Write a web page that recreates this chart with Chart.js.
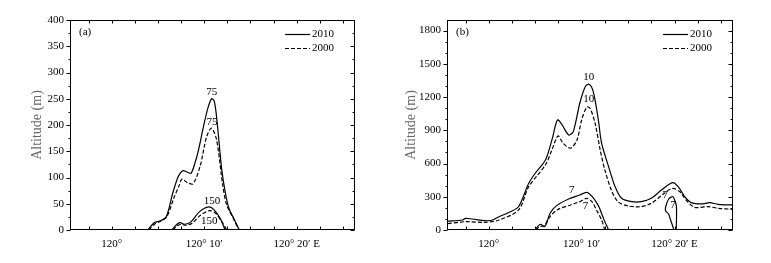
<!DOCTYPE html>
<html>
<head>
<meta charset="utf-8">
<script src="https://cdn.jsdelivr.net/npm/chart.js@4"></script>
<style>
  body { margin: 0; background: #fff; }
  #wrap { position: relative; width: 771px; height: 263px; }
  canvas { position: absolute; top: 0; }
</style>
</head>
<body>
<div id="wrap">
  <canvas id="chartA" width="385" height="263" style="left:0"></canvas>
  <canvas id="chartB" width="386" height="263" style="left:385px"></canvas>
</div>
<script>
// x values are minutes east of 120°E
const xTickValues = [0, 10, 20];
const xTickLabels = ['120°', '120° 10′', '120° 20′ E'];
const seriesNames = ['2010', '2000'];

// panel (a)
const aLon75_2010 = [3.9, 4.6, 5.2, 5.9, 6.6, 7.2, 7.7, 8.2, 8.6, 9.3, 9.9, 10.4, 10.8, 11.1, 11.4, 11.9, 12.3, 12.7, 13.2, 13.8];
const aAlt75_2010 = [0, 14, 17, 25, 70, 102, 113, 110, 108, 146, 195, 232, 250, 245, 205, 115, 70, 40, 22, 0];
const aLon75_2000 = [4.0, 4.7, 5.2, 5.95, 6.7, 7.3, 7.6, 8.2, 8.8, 9.55, 10.27, 10.8, 11.35, 12.0, 12.43, 13.15, 13.75];
const aAlt75_2000 = [0, 12, 16, 25, 60, 85, 97, 90, 88, 121, 178, 194, 171, 86, 48, 22, 0];
const aLon150_2010 = [6.5, 7.0, 7.4, 7.9, 8.6, 9.5, 10.5, 11.1, 11.8, 12.25];
const aAlt150_2010 = [0, 10, 14, 11, 16, 35, 44, 38, 20, 0];
const aLon150_2000 = [6.6, 7.1, 7.5, 8.0, 8.7, 9.6, 10.6, 11.3, 12.0, 12.45];
const aAlt150_2000 = [0, 8, 11, 9, 13, 28, 37, 31, 13, 0];
const aLabelText = ['75', '75', '150', '150'];
const aLabelLon = [10.83, 10.85, 10.84, 10.54];
const aLabelAlt = [262, 205, 55, 17];

// panel (b)
const bLon10_2010 = [-4.4, -2.85, -2.5, -1.8, -0.35, 0.4, 1.1, 2.1, 3.2, 4.3, 5.0, 6.1, 6.8, 7.4, 7.9, 8.6, 9.1, 9.8, 10.4, 10.8, 11.25, 11.8, 12.15, 12.9, 13.6, 14.3, 15.4, 16.4, 17.5, 18.6, 19.8, 20.4, 21.1, 21.8, 22.9, 23.8, 24.7, 26.3];
const bAlt10_2010 = [80, 90, 105, 99, 84, 90, 120, 156, 210, 421, 512, 632, 813, 993, 948, 858, 888, 1144, 1294, 1316, 1249, 993, 783, 572, 391, 286, 256, 256, 286, 361, 427, 391, 301, 247, 235, 247, 232, 226];
const bLon10_2000 = [-4.4, -2.5, -0.35, 1.1, 3.2, 4.3, 6.1, 6.8, 7.45, 8.0, 8.8, 9.5, 10.0, 10.55, 10.9, 11.45, 12.0, 12.5, 13.2, 13.9, 15.0, 16.4, 17.5, 18.9, 19.8, 20.55, 21.25, 22.15, 23.6, 24.7, 26.3];
const bAlt10_2000 = [57, 75, 69, 90, 180, 391, 587, 722, 849, 783, 738, 813, 993, 1108, 1099, 963, 722, 542, 361, 256, 217, 211, 241, 331, 376, 346, 271, 205, 211, 196, 187];
const bLon7_2010 = [5.0, 5.3, 5.6, 5.95, 6.2, 6.6, 7.3, 8.6, 9.8, 10.55, 11.1, 11.8, 12.35, 12.9];
const bAlt7_2010 = [0, 35, 50, 30, 55, 151, 220, 280, 316, 340, 305, 220, 105, 0];
const bLon7Loop_2010 = [20.19, 20.22, 20.19, 19.83, 19.37, 19.05, 19.05, 19.37, 19.58, 19.8, 19.94];
const bAlt7Loop_2010 = [0, 135, 226, 301, 280, 208, 172, 144, 90, 36, 0];
const bLon7_2000 = [5.05, 5.5, 6.0, 6.45, 7.35, 8.8, 9.8, 10.55, 11.1, 11.6, 12.15, 12.5];
const bAlt7_2000 = [0, 30, 40, 105, 181, 226, 256, 286, 256, 181, 90, 0];
const bLabelText = ['10', '10', '7', '7', '7', '7'];
const bLabelLon = [10.76, 10.76, 8.94, 10.42, 19.0, 19.83];
const bLabelAlt = [1377, 1177, 358, 218, 316, 226];

const serif = '"Liberation Serif", "DejaVu Serif", serif';
const pts = (lon, alt) => lon.map((x, i) => ({ x: x, y: alt[i] }));

function line(name, lon, alt, dashed, tension) {
  return {
    label: name,
    data: pts(lon, alt),
    borderColor: '#000',
    borderWidth: 1.2,
    borderDash: dashed ? [4, 2] : [],
    pointRadius: 0,
    fill: false,
    tension: tension === undefined ? 0.3 : tension
  };
}

// frame, inward/outward ticks, contour labels, legend and panel tag
const framePlugin = {
  id: 'frame',
  afterDatasetsDraw(chart, args, opts) {
    const { ctx, scales: { x, y } } = chart;
    ctx.save();
    ctx.fillStyle = '#000';
    ctx.font = '11px ' + serif;
    ctx.textAlign = 'center';
    ctx.textBaseline = 'middle';
    opts.text.forEach((t, i) => {
      ctx.fillText(t, x.getPixelForValue(opts.lon[i]), y.getPixelForValue(opts.alt[i]));
    });
    ctx.restore();
  },
  afterDraw(chart, args, opts) {
    const { ctx, chartArea: a, scales: { x, y } } = chart;
    const L = Math.round(a.left) + 0.5, R = Math.round(a.right) - 0.5;
    const T = Math.round(a.top) + 0.5, B = Math.round(a.bottom) - 0.5;
    ctx.save();
    ctx.strokeStyle = '#000';
    ctx.lineWidth = 1;
    ctx.setLineDash([]);
    ctx.strokeRect(L, T, R - L, B - T);
    ctx.beginPath();
    y.ticks.forEach(t => {
      const py = Math.round(y.getPixelForValue(t.value)) + 0.5;
      ctx.moveTo(L - 4, py); ctx.lineTo(L, py);
      ctx.moveTo(R, py); ctx.lineTo(R - 4, py);
    });
    for (let v = opts.minor; v < y.max; v += opts.minor) {
      if (Math.abs(v / opts.major - Math.round(v / opts.major)) < 1e-6) continue;
      const py = Math.round(y.getPixelForValue(v)) + 0.5;
      ctx.moveTo(L - 2, py); ctx.lineTo(L, py);
      ctx.moveTo(R, py); ctx.lineTo(R - 2, py);
    }
    x.ticks.forEach(t => {
      const px = Math.round(x.getPixelForValue(t.value)) + 0.5;
      ctx.moveTo(px, B); ctx.lineTo(px, B - 3);
      ctx.moveTo(px, T); ctx.lineTo(px, T + 3);
    });
    ctx.stroke();

    // legend
    ctx.font = '11px ' + serif;
    ctx.fillStyle = '#000';
    ctx.textBaseline = 'middle';
    ctx.textAlign = 'left';
    for (let i = 0; i < 2; i++) {
      const ds = chart.data.datasets[i];
      const ly = Math.round(a.top + 14 + i * 13.5) + 0.5;
      ctx.beginPath();
      ctx.lineWidth = 1.2;
      ctx.setLineDash(ds.borderDash);
      ctx.moveTo(a.right - 70, ly);
      ctx.lineTo(a.right - 45, ly);
      ctx.stroke();
      ctx.fillText(ds.label, a.right - 43, ly);
    }
    ctx.fillText(opts.tag, a.left + 9, a.top + 12);
    ctx.restore();
  }
};

function makeChart(id, datasets, cfg) {
  return new Chart(document.getElementById(id), {
    type: 'line',
    data: { datasets: datasets },
    plugins: [framePlugin],
    options: {
      responsive: false,
      animation: false,
      layout: { padding: { top: 20, right: cfg.padRight, left: 0, bottom: 0 } },
      plugins: {
        legend: { display: false },
        tooltip: { enabled: false },
        frame: { text: cfg.text, lon: cfg.lon, alt: cfg.alt, tag: cfg.tag, minor: cfg.minor, major: cfg.major }
      },
      scales: {
        x: {
          type: 'linear',
          min: -4.5,
          max: 26.3,
          grid: { display: false, drawTicks: false },
          border: { display: false },
          ticks: {
            stepSize: 2.5,
            includeBounds: false,
            autoSkip: false,
            maxRotation: 0,
            padding: 8,
            color: '#000',
            font: { family: serif, size: 11 },
            callback: v => {
              const k = xTickValues.findIndex(t => Math.abs(t - v) < 1e-6);
              return k >= 0 ? xTickLabels[k] : '';
            }
          },
          afterFit: s => { s.height = 33; }
        },
        y: {
          min: 0,
          max: cfg.yMax,
          grid: { display: false, drawTicks: false },
          border: { display: false },
          ticks: {
            stepSize: cfg.major,
            includeBounds: false,
            padding: 6,
            color: '#000',
            font: { family: serif, size: 11 },
            callback: v => String(v)
          },
          title: {
            display: true,
            text: 'Altitude (m)',
            color: '#666',
            font: { family: serif, size: 14 },
            padding: { top: cfg.titlePad, bottom: 0 }
          },
          afterFit: s => { s.width = cfg.yWidth; }
        }
      }
    }
  });
}

makeChart('chartA', [
  line(seriesNames[0], aLon75_2010, aAlt75_2010, false),
  line(seriesNames[1], aLon75_2000, aAlt75_2000, true),
  line(seriesNames[0], aLon150_2010, aAlt150_2010, false),
  line(seriesNames[1], aLon150_2000, aAlt150_2000, true)
], { padRight: 30, yWidth: 70, yMax: 400, major: 50, minor: 25, titlePad: 29, tag: '(a)',
     text: aLabelText, lon: aLabelLon, alt: aLabelAlt });

makeChart('chartB', [
  line(seriesNames[0], bLon10_2010, bAlt10_2010, false),
  line(seriesNames[1], bLon10_2000, bAlt10_2000, true),
  line(seriesNames[0], bLon7_2010, bAlt7_2010, false),
  line(seriesNames[0], bLon7Loop_2010, bAlt7Loop_2010, false, 0.2),
  line(seriesNames[1], bLon7_2000, bAlt7_2000, true)
], { padRight: 38, yWidth: 62, yMax: 1895, major: 300, minor: 100, titlePad: 18, tag: '(b)',
     text: bLabelText, lon: bLabelLon, alt: bLabelAlt });
</script>
</body>
</html>
